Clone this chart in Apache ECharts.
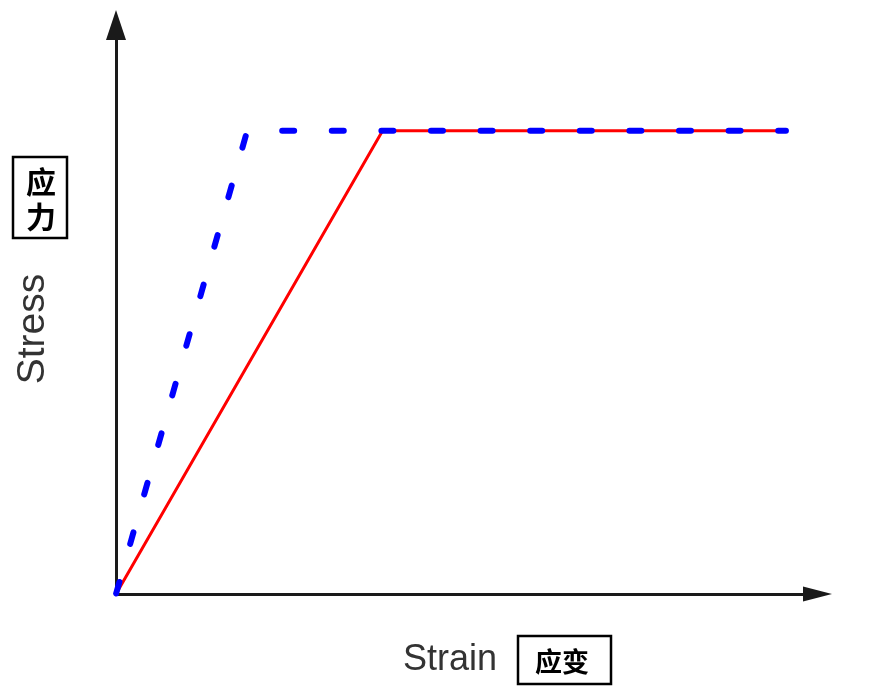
<!DOCTYPE html>
<html>
<head>
<meta charset="utf-8">
<script src="https://cdn.jsdelivr.net/npm/echarts@6/dist/echarts.min.js"></script>
<style>html,body{margin:0;padding:0;background:#fff;}#c{width:890px;height:691px;}</style>
</head>
<body>
<div id="c"></div>
<script>
// Data (arbitrary units; axis 0..100)
const redStrain = [0, 38.0, 95.5];
const redStress = [0, 81.4, 81.4];
const blueStrain = [0, 18.7, 95.5];
const blueStress = [0, 81.4, 81.4];
const xTitle = 'Strain';
const yTitle = 'Stress';
const xTitleCN = '应变';
const yTitleCN = ['应', '力'];

const chart = echarts.init(document.getElementById('c'), null, {renderer: 'canvas'});
const pairs = (xs, ys) => xs.map((x, i) => [x, ys[i]]);
const bluePts = pairs(blueStrain, blueStress);
const cnFont = '"Noto Sans CJK SC", sans-serif';
const enFont = '"Liberation Sans", Arial, sans-serif';
const blueStyle = {color: '#0000ff', width: 6, cap: 'round', join: 'round'};

chart.setOption({
  animation: false,
  backgroundColor: '#fff',
  grid: {left: 116, right: 72.5, top: 25, bottom: 97},
  xAxis: {
    type: 'value', min: 0, max: 100,
    axisLine: {show: true, symbol: ['none', 'triangle'], symbolSize: [15, 29], lineStyle: {color: '#1a1a1a', width: 3}},
    axisTick: {show: false}, axisLabel: {show: false}, splitLine: {show: false}
  },
  yAxis: {
    type: 'value', min: 0, max: 100,
    axisLine: {show: true, symbol: ['none', 'triangle'], symbolSize: [20, 30], lineStyle: {color: '#1a1a1a', width: 3}},
    axisTick: {show: false}, axisLabel: {show: false}, splitLine: {show: false}
  },
  series: [
    {
      type: 'line', data: pairs(redStrain, redStress), showSymbol: false, z: 2,
      lineStyle: {color: '#ff0000', width: 3}
    },
    {
      type: 'line', data: bluePts.slice(0, 2), showSymbol: false, z: 3,
      lineStyle: Object.assign({type: [12, 39.5], dashOffset: 51}, blueStyle)
    },
    {
      type: 'line', data: bluePts.slice(1), showSymbol: false, z: 3,
      lineStyle: Object.assign({type: [12, 37.6], dashOffset: 14.6}, blueStyle)
    }
  ],
  graphic: [
    {type: 'text', x: 33, y: 329, rotation: Math.PI / 2,
      style: {text: yTitle, font: '39px ' + enFont, fill: '#333', align: 'center', verticalAlign: 'middle'}},
    {type: 'text', x: 450, y: 660,
      style: {text: xTitle, font: '36px ' + enFont, fill: '#333', align: 'center', verticalAlign: 'middle'}},
    {type: 'rect', shape: {x: 13, y: 157, width: 54, height: 81},
      style: {fill: '#fff', stroke: '#000', lineWidth: 2.5}},
    {type: 'text', x: 41, y: 182,
      style: {text: yTitleCN[0], font: 'bold 30px ' + cnFont, fill: '#000', align: 'center', verticalAlign: 'middle'}},
    {type: 'text', x: 41, y: 217,
      style: {text: yTitleCN[1], font: 'bold 30px ' + cnFont, fill: '#000', align: 'center', verticalAlign: 'middle'}},
    {type: 'rect', shape: {x: 518, y: 636, width: 93, height: 48},
      style: {fill: '#fff', stroke: '#000', lineWidth: 2.5}},
    {type: 'text', x: 562, y: 662,
      style: {text: xTitleCN, font: 'bold 27px ' + cnFont, fill: '#000', align: 'center', verticalAlign: 'middle'}}
  ]
});
</script>
</body>
</html>
